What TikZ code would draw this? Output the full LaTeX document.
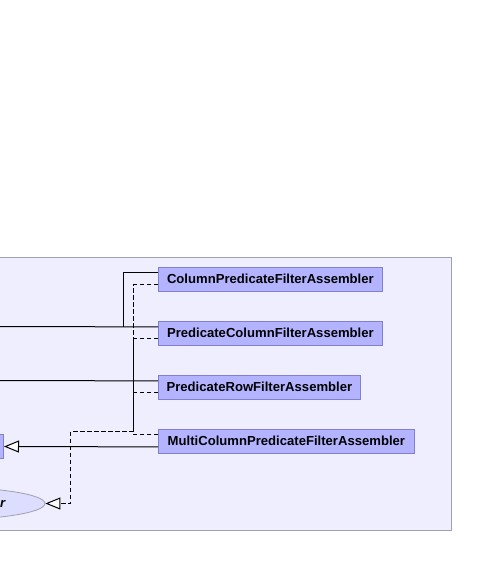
\documentclass[tikz,border=0pt]{standalone}
\usepackage{fontspec}
\setmainfont{Liberation Sans}
\usetikzlibrary{arrows.meta,shapes.geometric}
\definecolor{panelfill}{RGB}{238,238,255}
\definecolor{panelline}{RGB}{160,160,176}
\definecolor{boxfill}{RGB}{179,179,255}
\definecolor{boxline}{RGB}{128,128,204}
\definecolor{ellfill}{RGB}{221,221,255}
\definecolor{ellline}{RGB}{160,160,170}
\begin{document}
\begin{tikzpicture}[x=1pt,y=-1pt,
  cls/.style={draw=boxline, fill=boxfill, line width=0.8pt, inner sep=0pt,
    minimum height=24pt, font=\fontsize{13.1}{15}\selectfont\bfseries, anchor=north west},
  link/.style={line width=1pt, black},
  realize/.style={link, dash pattern=on 4.5pt off 2.5pt},
  gen/.style={-{Triangle[length=15pt,width=12pt,fill=white,line width=1pt]}}
]
\useasboundingbox (0,0) rectangle (480,568);
\clip (0,0) rectangle (480,568);
\draw[panelline, fill=panelfill, line width=0.9pt] (-10,257.5) rectangle (451.5,530);

\node[cls, minimum width=224pt] (cpfa) at (158,266.5) {ColumnPredicateFilterAssembler};
\node[cls, minimum width=224pt] (pcfa) at (158,320.5) {PredicateColumnFilterAssembler};
\node[cls, minimum width=202pt] (prfa) at (158,374.5) {PredicateRowFilterAssembler};
\node[cls, minimum width=256pt] (mcpfa) at (158,428.5) {MultiColumnPredicateFilterAssembler};

\node[cls, anchor=east, minimum width=40pt] (lbox) at (4,446.5) {};
\node[ellipse, draw=ellline, fill=ellfill, line width=0.8pt, minimum width=210pt, minimum height=33pt, inner sep=0pt] (ell) at (-60,503.5) {};
\node[font=\fontsize{13.1}{15}\selectfont\bfseries\itshape, anchor=east, inner sep=0pt] (ellr) at (5.5,504) {r};

\coordinate (offA) at (-5,326.5);
\coordinate (offB) at (-5,380.5);
\coordinate (jn) at (133.5,431.5);

% solid generalization lines going off to the left
\draw[link] ([yshift=6pt]cpfa.west) -| (123.5,326.5);
\draw[link] ([yshift=6pt]pcfa.west) -- (offA);
\draw[link] ([yshift=6pt]prfa.west) -- (offB);
\draw[link, gen] ([yshift=-6pt]mcpfa.west) -- (lbox.east);

% dashed realization lines
\draw[realize] ([yshift=-6pt]cpfa.west) -| (jn);
\draw[realize] ([yshift=-6pt]pcfa.west) -| (jn);
\draw[realize] ([yshift=-6pt]prfa.west) -| (jn);
\draw[realize] ([yshift=6pt]mcpfa.west) -| (jn);
\draw[realize, gen] (jn) -- (70.5,431.5) |- (ell.east);
\end{tikzpicture}
\end{document}
